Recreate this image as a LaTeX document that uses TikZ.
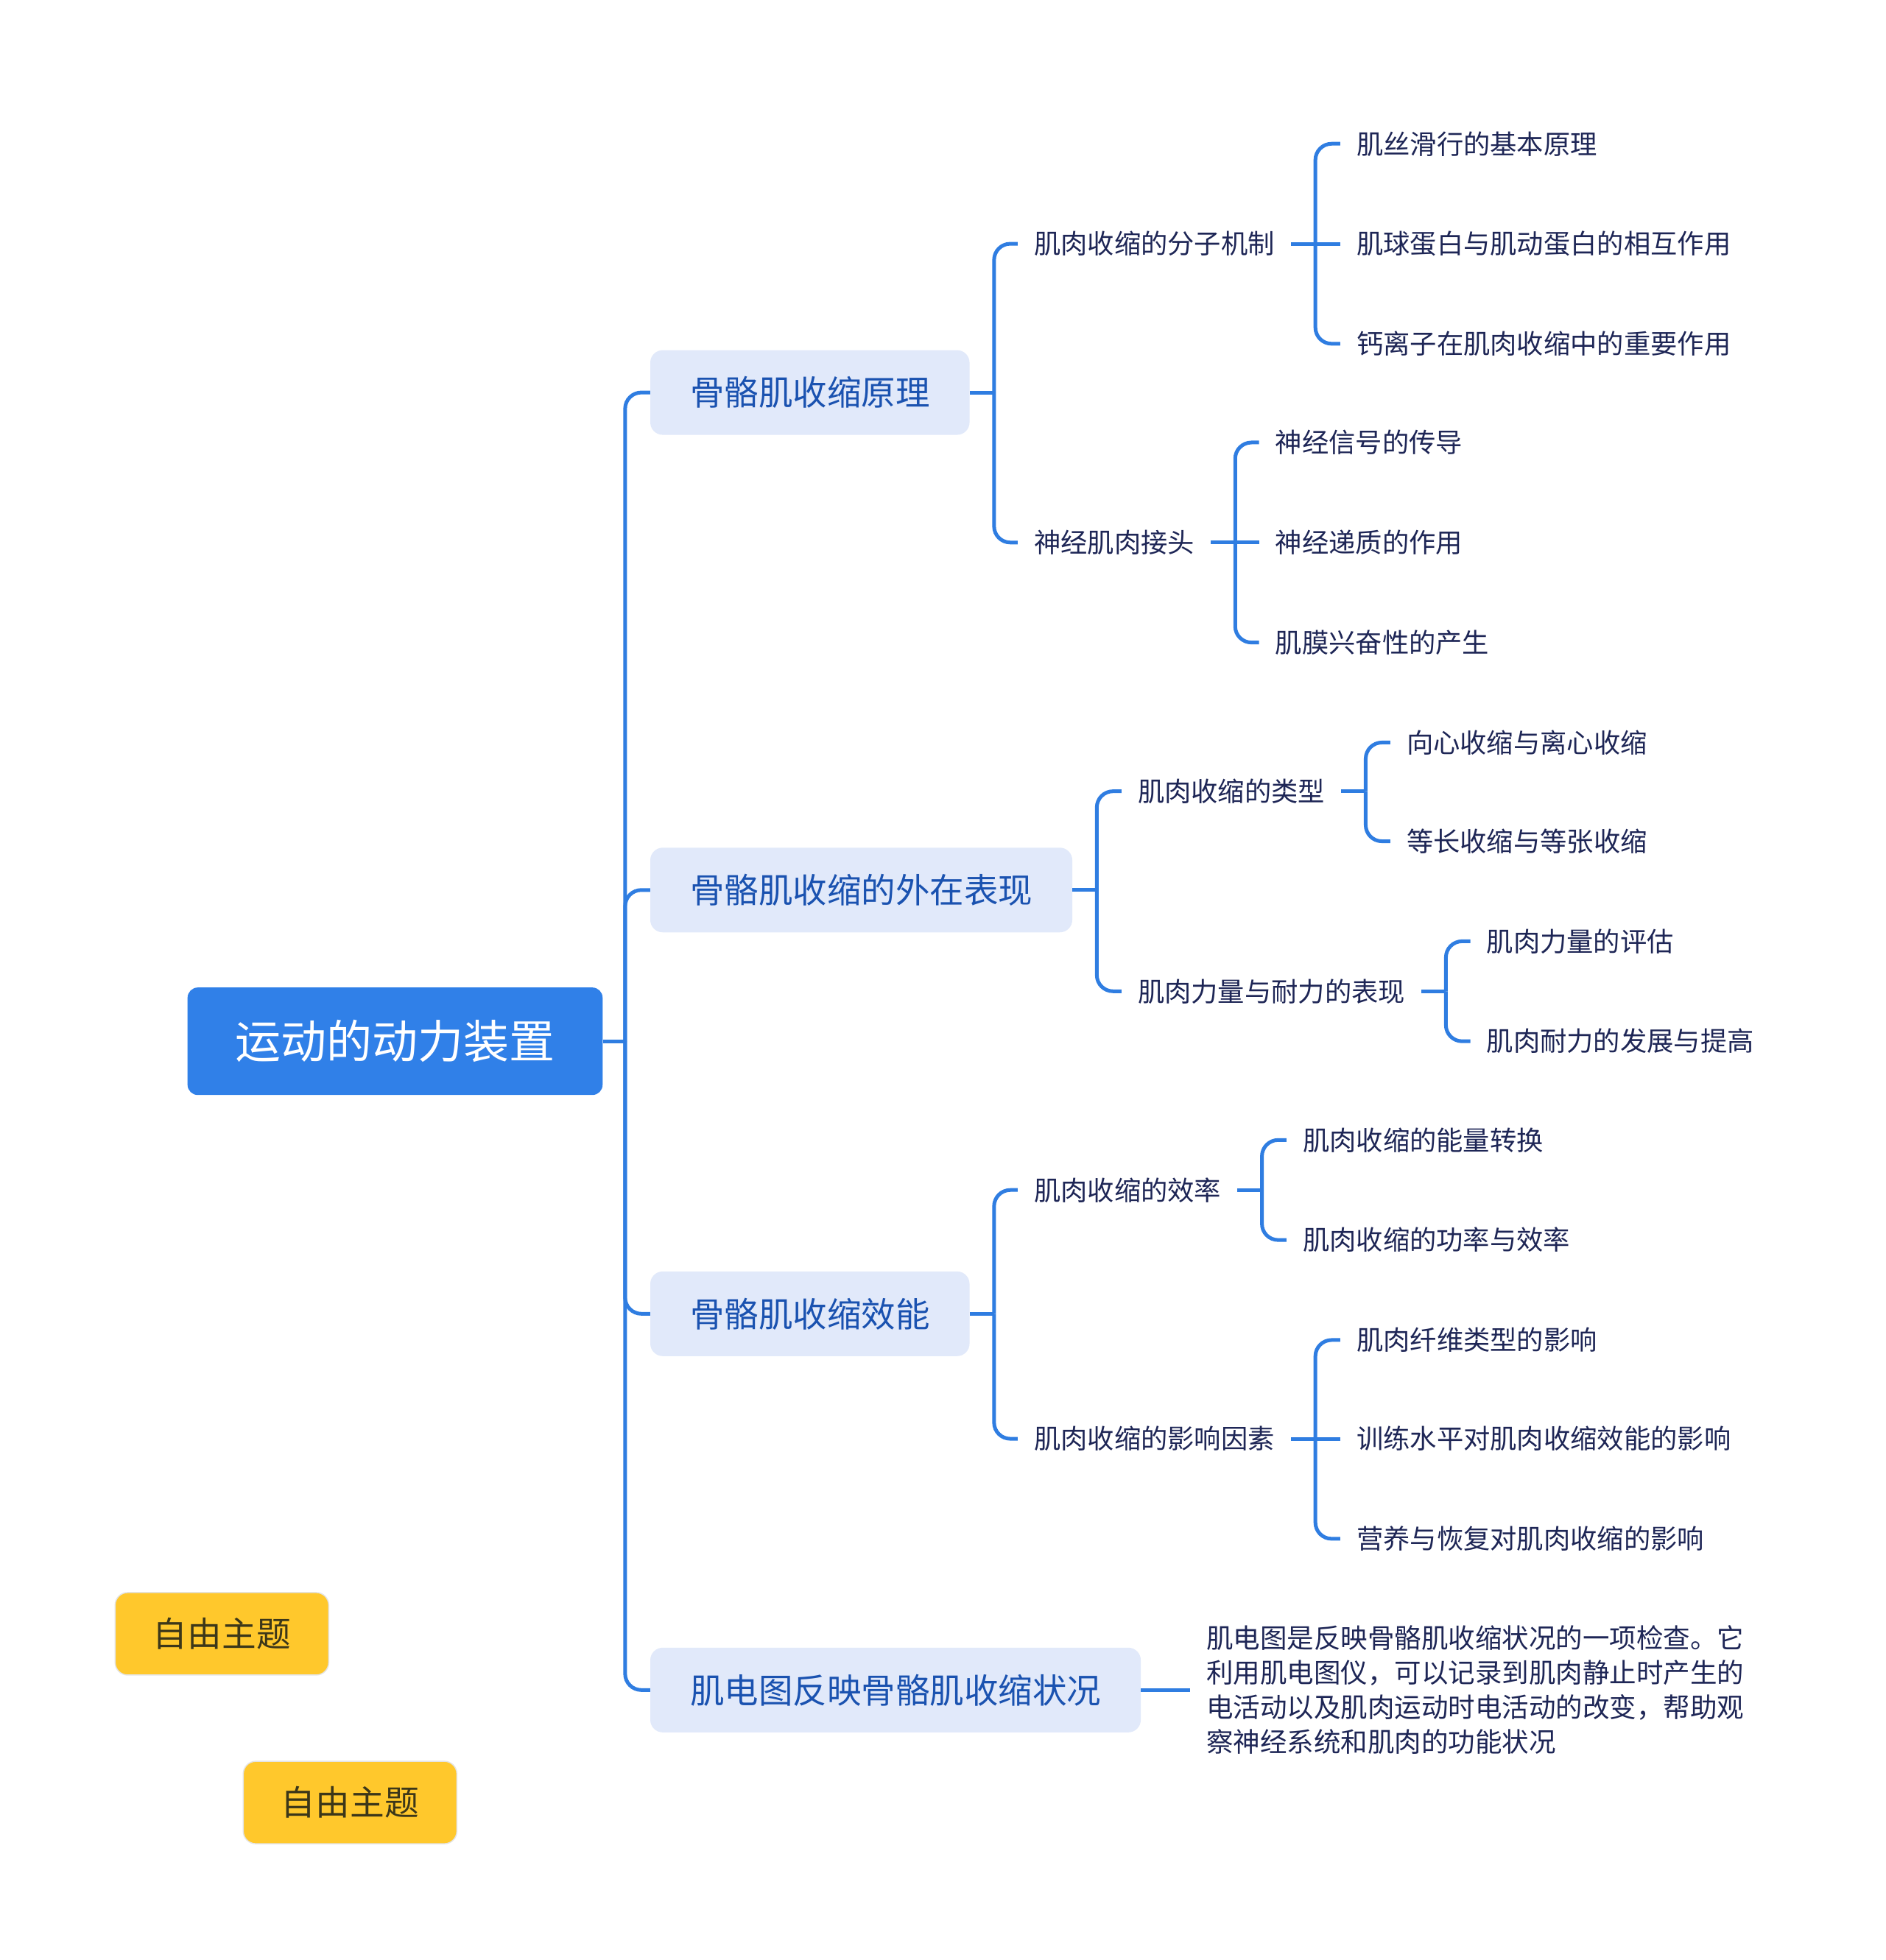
\documentclass[tikz,border=0pt]{standalone}
\usepackage{fontspec}
\setmainfont{Noto Sans CJK SC}
\usetikzlibrary{calc}
\definecolor{linec}{RGB}{47,125,225}
\definecolor{rootc}{RGB}{48,128,232}
\definecolor{l1fill}{RGB}{225,233,250}
\definecolor{l1text}{RGB}{26,82,176}
\definecolor{leaftext}{RGB}{30,38,86}
\definecolor{freefill}{RGB}{255,200,44}
\definecolor{freeborder}{RGB}{228,228,228}
\definecolor{freetext}{RGB}{60,55,25}
\begin{document}
\begin{tikzpicture}[x=1.6976pt,y=-1.6976pt,
  conn/.style={draw=linec,line width=5pt,rounded corners=22pt},
  rootbox/.style={fill=rootc,rounded corners=14pt,text=white,font=\fontsize{62pt}{74pt}\selectfont,inner xsep=0pt,inner ysep=0pt,minimum width=563.6pt,minimum height=146pt},
  l1box/.style={fill=l1fill,rounded corners=17pt,text=l1text,font=\fontsize{46.5pt}{56pt}\selectfont,inner xsep=54pt,inner ysep=0pt,minimum height=115pt,anchor=west},
  leaf/.style={text=leaftext,font=\fontsize{36.3pt}{44pt}\selectfont,inner xsep=22pt,inner ysep=0pt,anchor=west},
  desc/.style={text=leaftext,font=\fontsize{36.5pt}{47pt}\selectfont,inner xsep=22pt,inner ysep=0pt,anchor=west,align=left},
  freebox/.style={fill=freefill,draw=freeborder,line width=1.5pt,rounded corners=17pt,text=freetext,font=\fontsize{46.7pt}{56pt}\selectfont,inner xsep=0pt,inner ysep=0pt,minimum width=290pt,minimum height=112pt},
]
\useasboundingbox[fill=white] (0,0) rectangle (1508,1568);

% root and main branches
\node[rootbox] (root) at (316,833) {运动的动力装置};
\node[l1box] (a) at (520,314) {骨骼肌收缩原理};
\node[l1box] (b) at (520,712) {骨骼肌收缩的外在表现};
\node[l1box] (c) at (520,1051) {骨骼肌收缩效能};
\node[l1box] (d) at (520,1352) {肌电图反映骨骼肌收缩状况};

\coordinate (j0) at (500,833);
\draw[conn] (root.east) -- (j0);
\draw[conn] (j0) |- (a.west);
\draw[conn] (j0) |- (b.west);
\draw[conn] (j0) |- (c.west);
\draw[conn] (j0) |- (d.west);

% branch a
\node[leaf] (a1) at (814,195) {肌肉收缩的分子机制};
\node[leaf] (a2) at (814,434) {神经肌肉接头};
\draw[conn] (a.east) -- ++(19.5,0) coordinate (ja);
\draw[conn] (ja) |- (a1.west);
\draw[conn] (ja) |- (a2.west);

\node[leaf] (a11) at (1072,115) {肌丝滑行的基本原理};
\node[leaf] (a12) at (1072,195) {肌球蛋白与肌动蛋白的相互作用};
\node[leaf] (a13) at (1072,275) {钙离子在肌肉收缩中的重要作用};
\draw[conn] (a1.east) -- ++(19.5,0) coordinate (ja1);
\draw[conn] (ja1) |- (a11.west);
\draw[conn] (ja1) -- (a12.west);
\draw[conn] (ja1) |- (a13.west);

\node[leaf] (a21) at (1007,354) {神经信号的传导};
\node[leaf] (a22) at (1007,434) {神经递质的作用};
\node[leaf] (a23) at (1007,514) {肌膜兴奋性的产生};
\draw[conn] (a2.east) -- ++(19.5,0) coordinate (ja2);
\draw[conn] (ja2) |- (a21.west);
\draw[conn] (ja2) -- (a22.west);
\draw[conn] (ja2) |- (a23.west);

% branch b
\node[leaf] (b1) at (897,633) {肌肉收缩的类型};
\node[leaf] (b2) at (897,793) {肌肉力量与耐力的表现};
\draw[conn] (b.east) -- ++(19.5,0) coordinate (jb);
\draw[conn] (jb) |- (b1.west);
\draw[conn] (jb) |- (b2.west);

\node[leaf] (b11) at (1112,594) {向心收缩与离心收缩};
\node[leaf] (b12) at (1112,673) {等长收缩与等张收缩};
\draw[conn] (b1.east) -- ++(19.5,0) coordinate (jb1);
\draw[conn] (jb1) |- (b11.west);
\draw[conn] (jb1) |- (b12.west);

\node[leaf] (b21) at (1176,753) {肌肉力量的评估};
\node[leaf] (b22) at (1176,833) {肌肉耐力的发展与提高};
\draw[conn] (b2.east) -- ++(19.5,0) coordinate (jb2);
\draw[conn] (jb2) |- (b21.west);
\draw[conn] (jb2) |- (b22.west);

% branch c
\node[leaf] (c1) at (814,952) {肌肉收缩的效率};
\node[leaf] (c2) at (814,1151) {肌肉收缩的影响因素};
\draw[conn] (c.east) -- ++(19.5,0) coordinate (jc);
\draw[conn] (jc) |- (c1.west);
\draw[conn] (jc) |- (c2.west);

\node[leaf] (c11) at (1029,912) {肌肉收缩的能量转换};
\node[leaf] (c12) at (1029,992) {肌肉收缩的功率与效率};
\draw[conn] (c1.east) -- ++(19.5,0) coordinate (jc1);
\draw[conn] (jc1) |- (c11.west);
\draw[conn] (jc1) |- (c12.west);

\node[leaf] (c21) at (1072,1072) {肌肉纤维类型的影响};
\node[leaf] (c22) at (1072,1151) {训练水平对肌肉收缩效能的影响};
\node[leaf] (c23) at (1072,1231) {营养与恢复对肌肉收缩的影响};
\draw[conn] (c2.east) -- ++(19.5,0) coordinate (jc2);
\draw[conn] (jc2) |- (c21.west);
\draw[conn] (jc2) -- (c22.west);
\draw[conn] (jc2) |- (c23.west);

% branch d
\node[desc] (dd) at (952,1352) {肌电图是反映骨骼肌收缩状况的一项检查。它\\利用肌电图仪，可以记录到肌肉静止时产生的\\电活动以及肌肉运动时电活动的改变，帮助观\\察神经系统和肌肉的功能状况};
\draw[conn] (d.east) -- (dd.west);

% free topics
\node[freebox] (f1) at (177.5,1307) {自由主题};
\node[freebox] (f2) at (280,1442) {自由主题};
\end{tikzpicture}
\end{document}
